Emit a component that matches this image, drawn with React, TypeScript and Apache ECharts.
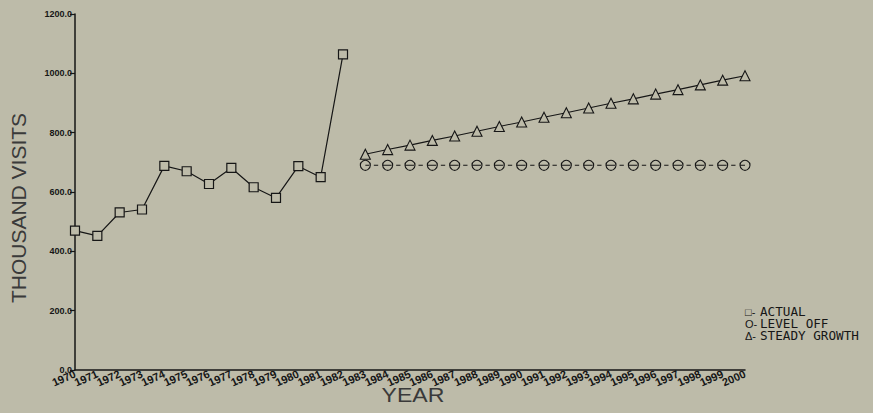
import React, { useEffect, useRef } from "react";
import * as echarts from "echarts";

const yearLabels = [
  "1970", "1971", "1972", "1973", "1974", "1975", "1976", "1977", "1978", "1979",
  "1980", "1981", "1982", "1983", "1984", "1985", "1986", "1987", "1988", "1989",
  "1990", "1991", "1992", "1993", "1994", "1995", "1996", "1997", "1998", "1999", "2000",
];
const actualYears = ["1970", "1971", "1972", "1973", "1974", "1975", "1976", "1977", "1978", "1979", "1980", "1981", "1982"];
const actualValues = [470, 452, 531, 541, 688, 670, 627, 681, 616, 580, 687, 650, 1064];
const forecastYears = [
  "1983", "1984", "1985", "1986", "1987", "1988", "1989", "1990", "1991",
  "1992", "1993", "1994", "1995", "1996", "1997", "1998", "1999", "2000",
];
const levelOffValues = [690, 690, 690, 690, 690, 690, 690, 690, 690, 690, 690, 690, 690, 690, 690, 690, 690, 690];
const steadyGrowthValues = [727, 743, 758, 774, 789, 805, 821, 836, 852, 867, 883, 899, 914, 930, 945, 961, 977, 992];
const legendItems = [
  { mark: "□-", label: "ACTUAL" },
  { mark: "O-", label: "LEVEL OFF" },
  { mark: "Δ-", label: "STEADY GROWTH" },
];

const BG = "#bdbba9";
const INK = "#161616";

export default function App() {
  const ref = useRef<HTMLDivElement>(null);
  useEffect(() => {
    if (!ref.current) return;
    const chart = echarts.init(ref.current, null, { renderer: "svg" });
    const pair = (xs: string[], ys: number[]) => xs.map((x, i) => [x, ys[i]]);
    const gridLeft = 75;
    const gridRight = 128;
    const pxPerYear = (873 - gridLeft - gridRight) / (yearLabels.length - 1);
    const half = 4.5;
    const dash = pxPerYear - 4 * half;
    chart.setOption({
      animation: false,
      backgroundColor: BG,
      grid: { left: gridLeft, right: gridRight, top: 14, bottom: 43 },
      xAxis: {
        type: "category",
        data: yearLabels,
        boundaryGap: false,
        axisLine: { show: true, lineStyle: { color: INK, width: 1.5 } },
        axisTick: { show: false },
        splitLine: { show: false },
        axisLabel: {
          interval: 0,
          rotate: 24,
          margin: 3,
          fontSize: 11,
          fontWeight: "bold",
          fontFamily: "Liberation Sans Narrow, Liberation Sans",
          color: INK,
          hideOverlap: false,
        },
      },
      yAxis: {
        type: "value",
        min: 0,
        max: 1200,
        interval: 200,
        axisLine: { show: true, lineStyle: { color: INK, width: 1.5 } },
        axisTick: { show: true, inside: false, length: 5, lineStyle: { color: INK, width: 1.2 } },
        splitLine: { show: false },
        axisLabel: {
          margin: 3,
          fontSize: 9,
          fontWeight: "bold",
          fontFamily: "Liberation Sans",
          color: INK,
          formatter: (v: number) => v.toFixed(1),
        },
      },
      series: [
        {
          name: "ACTUAL",
          type: "line",
          data: pair(actualYears, actualValues),
          symbol: "rect",
          symbolSize: 9,
          itemStyle: { color: BG, borderColor: INK, borderWidth: 1.2 },
          lineStyle: { color: INK, width: 1.2 },
          z: 3,
        },
        {
          name: "LEVEL OFF",
          type: "line",
          data: pair(forecastYears, levelOffValues),
          symbol: "circle",
          symbolSize: 10,
          itemStyle: { color: "rgba(0,0,0,0)", borderColor: INK, borderWidth: 1.1 },
          lineStyle: { color: INK, width: 1.1, type: [2 * half, half, dash, half], dashOffset: half },
          z: 2,
        },
        {
          name: "STEADY GROWTH",
          type: "line",
          data: pair(forecastYears, steadyGrowthValues),
          symbol: "triangle",
          symbolSize: 10,
          itemStyle: { color: BG, borderColor: INK, borderWidth: 1.1 },
          lineStyle: { color: INK, width: 1.1 },
          z: 3,
        },
      ],
      graphic: [
        {
          type: "text",
          x: 18,
          y: 208,
          rotation: Math.PI / 2,
          style: {
            text: "THOUSAND VISITS",
            fontSize: 21,
            fontFamily: "Liberation Sans",
            fill: "#3a3a3a",
            textAlign: "center",
            textVerticalAlign: "middle",
          },
        },
        {
          type: "text",
          x: 413,
          y: 395,
          scaleX: 1.1,
          style: {
            text: "YEAR",
            fontSize: 21,
            fontFamily: "Liberation Sans",
            fill: "#3a3a3a",
            textAlign: "center",
            textVerticalAlign: "middle",
          },
        },
        ...legendItems.flatMap((it, i) => [
          {
            type: "text",
            x: 745,
            y: 312 + i * 12,
            style: {
              text: it.mark,
              fontSize: 11,
              fontFamily: "Liberation Sans",
              fill: INK,
              textAlign: "left",
              textVerticalAlign: "middle",
            },
          },
          {
            type: "text",
            x: 760,
            y: 312 + i * 12,
            scaleX: 1.1,
            style: {
              text: it.label,
              fontSize: 11.5,
              fontFamily: "DejaVu Sans Mono",
              fill: INK,
              textAlign: "left",
              textVerticalAlign: "middle",
            },
          },
        ]),
      ],
    });
    return () => chart.dispose();
  }, []);
  return (
    <div style={{ position: "fixed", left: 0, top: 0, width: 873, height: 413, background: BG }}>
      <div ref={ref} style={{ width: 873, height: 413 }} />
    </div>
  );
}
